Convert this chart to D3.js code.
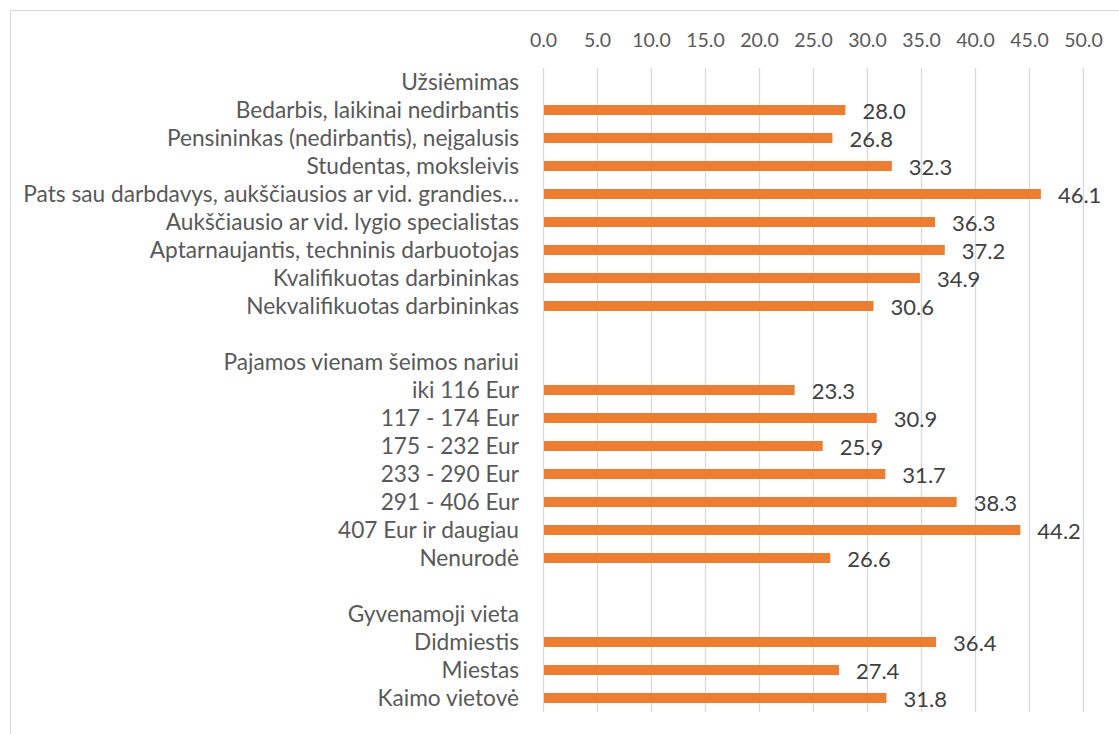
<!DOCTYPE html>
<html>
<head>
<meta charset="utf-8">
<script src="https://cdn.jsdelivr.net/npm/d3@7"></script>
<style>
  body { margin: 0; background: #fff; }
  svg { display: block; font-family: Lato, "Noto Sans", sans-serif; }
</style>
</head>
<body>
<svg id="chart"></svg>
<script>
// Categories in drawing order (headers and blank spacer rows have no value)
const categories = [
  "Užsiėmimas",
  "Bedarbis, laikinai nedirbantis",
  "Pensininkas (nedirbantis), neįgalusis",
  "Studentas, moksleivis",
  "Pats sau darbdavys, aukščiausios ar vid. grandies…",
  "Aukščiausio ar vid. lygio specialistas",
  "Aptarnaujantis, techninis darbuotojas",
  "Kvalifikuotas darbininkas",
  "Nekvalifikuotas darbininkas",
  "",
  "Pajamos vienam šeimos nariui",
  "iki 116 Eur",
  "117 - 174 Eur",
  "175 - 232 Eur",
  "233 - 290 Eur",
  "291 - 406 Eur",
  "407 Eur ir daugiau",
  "Nenurodė",
  "",
  "Gyvenamoji vieta",
  "Didmiestis",
  "Miestas",
  "Kaimo vietovė"
];

const values = [
  null, 28.0, 26.8, 32.3, 46.1, 36.3, 37.2, 34.9, 30.6,
  null,
  null, 23.3, 30.9, 25.9, 31.7, 38.3, 44.2, 26.6,
  null,
  null, 36.4, 27.4, 31.8
];

const tickValues = [0, 5, 10, 15, 20, 25, 30, 35, 40, 45, 50];

const data = categories.map((c, i) => ({ idx: i, label: c, value: values[i] }));

const width = 1119;
const height = 734;
const margin = { top: 68, right: 36, bottom: 22, left: 543 };

const svg = d3.select("#chart")
  .attr("width", width)
  .attr("height", height);

// Chart area border
svg.append("rect")
  .attr("x", 10.5)
  .attr("y", 10.5)
  .attr("width", width + 20)
  .attr("height", height + 20)
  .attr("fill", "none")
  .attr("stroke", "#d9d9d9");

const x = d3.scaleLinear()
  .domain([0, 50])
  .range([margin.left, width - margin.right]);

const y = d3.scaleBand()
  .domain(data.map(d => d.idx))
  .range([margin.top, height - margin.bottom])
  .paddingInner(0.64)
  .paddingOuter(0.32);

// Gridlines
svg.append("g")
  .selectAll("line")
  .data(tickValues)
  .enter()
  .append("line")
  .attr("x1", d => Math.round(x(d)) + 0.5)
  .attr("x2", d => Math.round(x(d)) + 0.5)
  .attr("y1", margin.top)
  .attr("y2", height - margin.bottom)
  .attr("stroke", "#d9d9d9")
  .attr("stroke-width", 1.3);

// Top axis labels
const xAxis = svg.append("g")
  .attr("transform", "translate(0,47)")
  .call(d3.axisTop(x).tickValues(tickValues).tickFormat(d3.format(".1f")).tickSize(0).tickPadding(0));
xAxis.select(".domain").remove();
xAxis.selectAll("text")
  .attr("fill", "#595959")
  .style("font-size", "19.5px")
  .style("font-family", "Lato");

// Category labels
const yAxis = svg.append("g")
  .attr("transform", `translate(${margin.left - 24},0)`)
  .call(d3.axisLeft(y).tickFormat(i => categories[i]).tickSize(0).tickPadding(0));
yAxis.select(".domain").remove();
yAxis.selectAll("text")
  .attr("fill", "#595959")
  .attr("dy", "0.35em")
  .style("font-size", "22.7px")
  .style("font-family", "Lato");

// Bars
const barData = data.filter(d => d.value !== null);
svg.selectAll(".bar")
  .data(barData)
  .enter()
  .append("rect")
  .attr("class", "bar")
  .attr("x", x(0) + 1)
  .attr("y", d => y(d.idx) + y.bandwidth() / 2 - 5)
  .attr("width", d => x(d.value) - x(0) - 1)
  .attr("height", 10)
  .attr("fill", "#ed7d31");

// Value labels
svg.selectAll(".value-label")
  .data(barData)
  .enter()
  .append("text")
  .attr("class", "value-label")
  .attr("x", d => x(d.value) + 17)
  .attr("y", d => y(d.idx) + y.bandwidth() / 2 + 9)
  .attr("fill", "#404040")
  .style("font-size", "22px")
  .text(d => d3.format(".1f")(d.value));
</script>
</body>
</html>
